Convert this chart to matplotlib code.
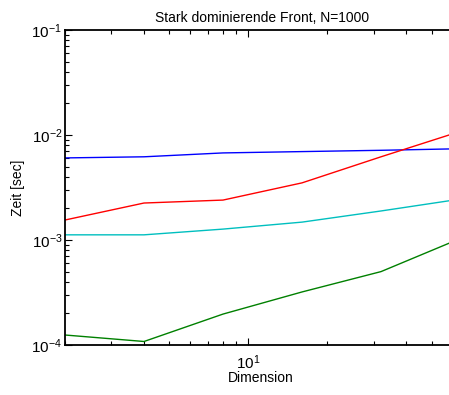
import matplotlib
matplotlib.use("Agg")
import matplotlib.pyplot as plt
from matplotlib.ticker import LogLocator, NullFormatter

plt.rcParams['font.family'] = ['Liberation Sans', 'DejaVu Sans']
plt.rcParams['mathtext.fontset'] = 'custom'
plt.rcParams['mathtext.rm'] = 'Liberation Sans'
plt.rcParams['mathtext.it'] = 'Liberation Sans'
plt.rcParams['mathtext.bf'] = 'Liberation Sans'

dimension = [2, 4, 8, 16, 32, 64]
blue_vals = [6.05e-3, 6.2e-3, 6.75e-3, 6.95e-3, 7.15e-3, 7.4e-3]
green_vals = [1.245e-4, 1.08e-4, 1.97e-4, 3.2e-4, 5.0e-4, 1.03e-3]
red_vals = [1.55e-3, 2.25e-3, 2.4e-3, 3.5e-3, 6.2e-3, 1.08e-2]
cyan_vals = [1.12e-3, 1.12e-3, 1.27e-3, 1.48e-3, 1.89e-3, 2.45e-3]

title = "Stark dominierende Front, N=1000"
xlabel = "Dimension"
ylabel = "Zeit [sec]"

fig = plt.figure(figsize=(4.49, 3.95), dpi=100)
ax = fig.add_axes([65/449, 50/395, 395/449, 315/395])

ax.plot(dimension, blue_vals, color=(0, 0, 1), lw=1.0)
ax.plot(dimension, green_vals, color=(0, 0.5, 0), lw=1.0)
ax.plot(dimension, red_vals, color=(1, 0, 0), lw=1.0)
ax.plot(dimension, cyan_vals, color=(0, 0.75, 0.75), lw=1.0)

ax.set_xscale('log')
ax.set_yscale('log')
ax.set_xlim(2, 64)
ax.set_ylim(1e-4, 1e-1)

ax.xaxis.set_major_locator(LogLocator(base=10, numticks=10))
ax.xaxis.set_minor_locator(LogLocator(base=10, subs=range(2, 10), numticks=20))
ax.xaxis.set_minor_formatter(NullFormatter())
ax.yaxis.set_major_locator(LogLocator(base=10, numticks=10))
ax.yaxis.set_minor_locator(LogLocator(base=10, subs=range(2, 10), numticks=20))
ax.yaxis.set_minor_formatter(NullFormatter())

ax.tick_params(which='both', direction='in', top=True, right=True, labelsize=11, width=0.8)
ax.tick_params(which='major', length=5)
ax.tick_params(which='minor', length=3)
ax.tick_params(axis='y', pad=2)
ax.tick_params(axis='x', pad=6)
for s in ax.spines.values():
    s.set_linewidth(1.3)

ax.set_title(title, fontsize=10, pad=6)
ax.set_xlabel(xlabel, fontsize=10, va='center')
ax.set_ylabel(ylabel, fontsize=10, va='center')
ax.xaxis.set_label_coords((261 - 65) / 395, (345 - 377.5) / 315)
ax.yaxis.set_label_coords((18 - 65) / 395, 0.5)

fig.savefig("out.png", dpi=100)
